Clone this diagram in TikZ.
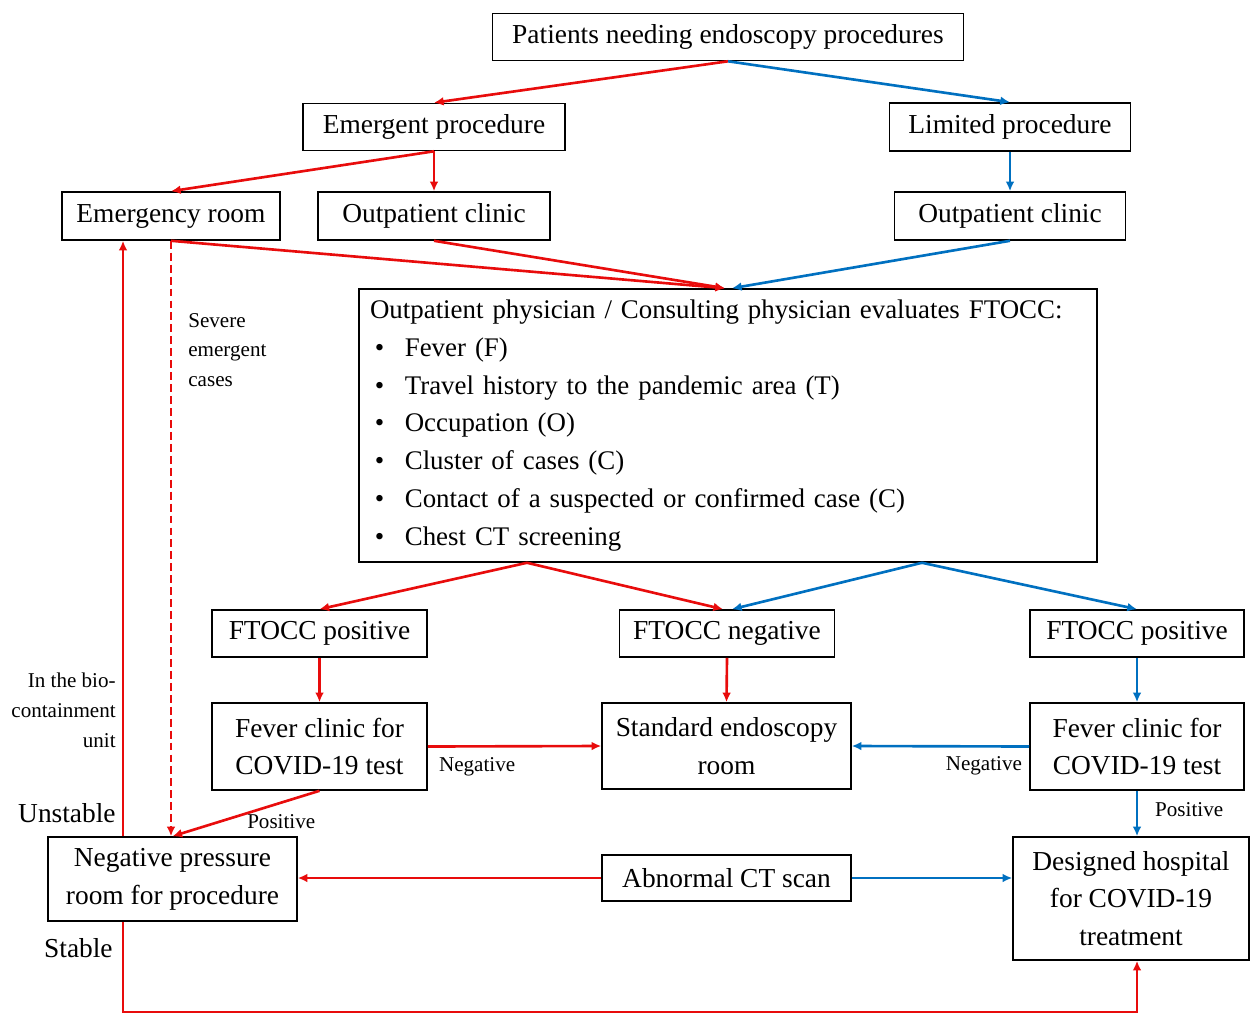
\documentclass[tikz,border=0pt]{standalone}
\usepackage{fontspec}
\setmainfont{Liberation Serif}
\usetikzlibrary{calc, arrows.meta}
\definecolor{flowred}{RGB}{232,12,12}
\definecolor{flowblue}{RGB}{0,112,192}
\newcommand{\boxfont}{\fontsize{15.6}{21.5}\selectfont}
\newcommand{\evalfont}{\fontsize{15.3}{21.5}\selectfont}
\newcommand{\notefont}{\fontsize{12}{17}\selectfont}
\newcommand{\blt}{\makebox[19.8pt][l]{\hspace{2.8pt}\textbullet}}

\begin{document}
\begin{tikzpicture}[x=0.02cm, y=-0.02cm, >={Latex[length=5.5pt,width=5pt]},
    box/.style={draw, line width=0.9pt, align=center, font=\boxfont, inner sep=2pt},
    redarr/.style={->, flowred, line width=1.5pt},
    bluearr/.style={->, flowblue, line width=1.5pt},
    note/.style={font=\notefont, inner sep=0pt}]
    \useasboundingbox (0,0) rectangle (1250,1014);

    % top rows
    \node[box, minimum width=9.42cm, minimum height=0.94cm] (pat) at (728,37) {Patients needing endoscopy procedures};
    \node[box, minimum width=5.24cm, minimum height=0.94cm] (emg) at (434,127) {Emergent procedure};
    \node[box, minimum width=4.82cm, minimum height=0.96cm] (lim) at (1010,127) {Limited procedure};
    \node[box, minimum width=4.36cm, minimum height=0.96cm] (er) at (171,216) {Emergency room};
    \node[box, minimum width=4.64cm, minimum height=0.96cm] (opc1) at (434,216) {Outpatient clinic};
    \node[box, minimum width=4.62cm, minimum height=0.96cm] (opc2) at (1010,216) {Outpatient clinic};

    % FTOCC evaluation
    \node[draw, line width=0.9pt, font=\evalfont, align=left, text width=14.32cm, inner xsep=0.22cm,
          minimum height=5.46cm] (eval) at (728,425.5)
        {Outpatient physician / Consulting physician evaluates FTOCC:\\
         \blt Fever (F)\\
         \blt Travel history to the pandemic area (T)\\
         \blt Occupation (O)\\
         \blt Cluster of cases (C)\\
         \blt Contact of a suspected or confirmed case (C)\\
         \blt Chest CT screening};

    % results
    \node[box, minimum width=4.3cm, minimum height=0.94cm] (pos1) at (319.5,633.5) {FTOCC positive};
    \node[box, minimum width=4.3cm, minimum height=0.94cm] (neg) at (727,633.5) {FTOCC negative};
    \node[box, minimum width=4.28cm, minimum height=0.94cm] (pos2) at (1137,633.5) {FTOCC positive};
    \node[box, minimum width=4.3cm, minimum height=1.74cm] (fv1) at (319.5,746.5) {Fever clinic for\\COVID-19 test};
    \node[box, minimum width=4.98cm, minimum height=1.72cm] (std) at (726.5,746) {Standard endoscopy\\room};
    \node[box, minimum width=4.28cm, minimum height=1.74cm] (fv2) at (1137,746.5) {Fever clinic for\\COVID-19 test};
    \node[box, minimum width=4.98cm, minimum height=1.68cm] (npr) at (172.5,879) {Negative pressure\\room for procedure};
    \node[box, minimum width=4.98cm, minimum height=0.92cm] (act) at (726.5,878) {Abnormal CT scan};
    \node[box, minimum width=4.72cm, minimum height=2.46cm] (hosp) at (1131,898.5) {Designed hospital\\for COVID-19\\treatment};

    % side labels
    \node[note, align=left, anchor=west] (sev) at (188,350) {Severe\\emergent\\cases};
    \node[note, align=right, anchor=east] (bio) at (116,710) {In the bio-\\containment\\unit};
    \node[font=\boxfont, inner sep=0pt, anchor=east] (unst) at (116,813) {Unstable};
    \node[font=\boxfont, inner sep=0pt, anchor=east] (stab) at (113,948) {Stable};

    \coordinate (evL) at ($(eval.south)+(-201,0)$);
    \coordinate (evR) at ($(eval.south)+(194,0)$);
    \coordinate (bioX) at (123,0);
    \coordinate (loopY) at (0,1012);

    % connectors
    \draw[redarr] (pat.south) -- (emg.north);
    \draw[bluearr] (pat.south) -- (lim.north);
    \draw[redarr] (emg.south) -- (er.north);
    \draw[redarr] (emg.south) -- (opc1.north);
    \draw[bluearr] (lim.south) -- (opc2.north);
    \draw[redarr] (er.south) -- ($(eval.north)+(-3,0)$);
    \draw[redarr] (opc1.south) -- ($(eval.north)+(-3,0)$);
    \draw[bluearr] (opc2.south) -- ($(eval.north)+(4,0)$);

    \draw[redarr] (evL) -- (pos1.north);
    \draw[redarr] (evL) -- ($(neg.north)+(-4,0)$);
    \draw[bluearr] (evR) -- ($(neg.north)+(5,0)$);
    \draw[bluearr] (evR) -- (pos2.north);

    \draw[redarr] (pos1.south) -- (fv1.north);
    \draw[redarr] (neg.south) -- (std.north);
    \draw[bluearr] (pos2.south) -- (fv2.north);

    \draw[redarr] (fv1.east) -- node[note, pos=0, anchor=north west, xshift=5.7pt, yshift=-5.5pt, text=black] {Negative} (std.west);
    \draw[bluearr] (fv2.west) -- node[note, pos=0, anchor=north east, xshift=-3.4pt, yshift=-5pt, text=black] {Negative} (std.east);
    \draw[redarr] (fv1.south) -- node[note, pos=0, anchor=north east, xshift=-1.7pt, yshift=-13pt, text=black] {Positive} (npr.north);
    \draw[bluearr] (fv2.south) -- node[note, pos=0, anchor=north west, xshift=9.6pt, yshift=-6.2pt, text=black] {Positive} (fv2.south |- hosp.north);

    \draw[redarr] (act.west) -- (act.west -| npr.east);
    \draw[bluearr] (act.east) -- (act.east -| hosp.west);

    \draw[redarr, dash pattern=on 4.5pt off 2.3pt] (er.south) -- (er.south |- npr.north);
    \draw[redarr] (npr.north -| bioX) -- (er.south -| bioX);
    \draw[redarr] (npr.south -| bioX) -- (bioX |- loopY) -| (hosp.south -| fv2.south);
\end{tikzpicture}
\end{document}
